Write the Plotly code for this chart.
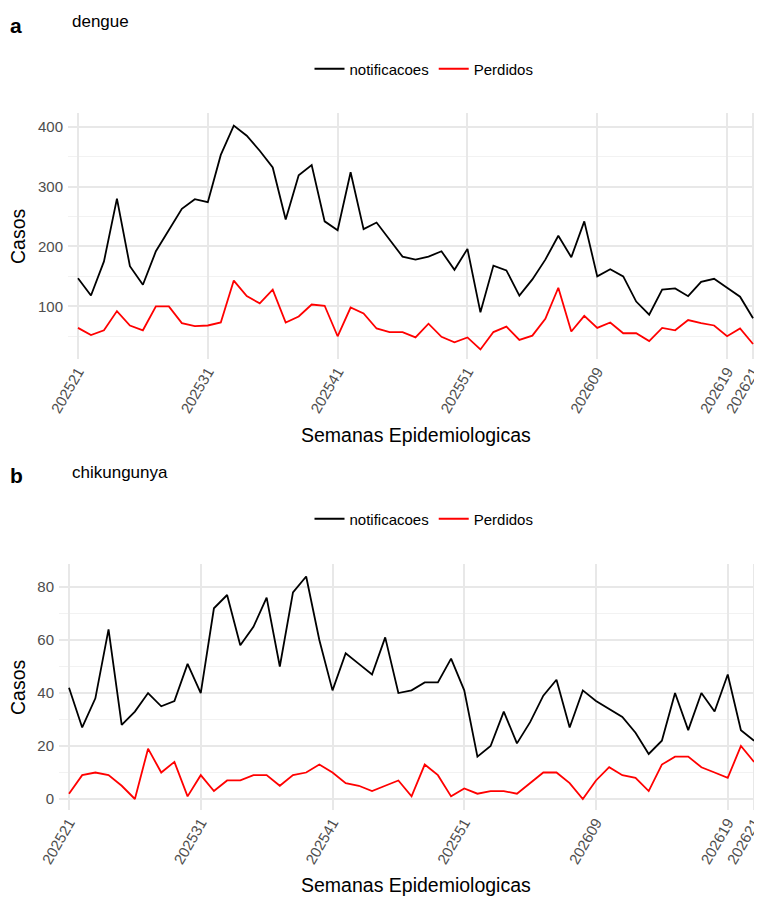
import plotly.graph_objects as go
from plotly.subplots import make_subplots

semanas = ["202521", "202522", "202523", "202524", "202525", "202526", "202527", "202528", "202529", "202530",
           "202531", "202532", "202533", "202534", "202535", "202536", "202537", "202538", "202539", "202540",
           "202541", "202542", "202543", "202544", "202545", "202546", "202547", "202548", "202549", "202550",
           "202551", "202552", "202601", "202602", "202603", "202604", "202605", "202606", "202607", "202608",
           "202609", "202610", "202611", "202612", "202613", "202614", "202615", "202616", "202617", "202618",
           "202619", "202620", "202621"]
tick_semanas = ["202521", "202531", "202541", "202551", "202609", "202619", "202621"]

dengue_notif = [147, 118, 175, 280, 167, 136, 192, 228, 263, 279, 274, 353, 402, 385, 360, 332, 245, 319, 336, 242,
                227, 324, 229, 240, 212, 183, 178, 183, 192, 161, 196, 90, 168, 160, 118, 145, 178, 218, 182, 242,
                150, 162, 150, 108, 86, 128, 130, 117, 141, 146, 131, 116, 80]
dengue_perd = [64, 52, 60, 92, 68, 60, 100, 100, 72, 67, 68, 73, 143, 117, 105, 128, 73, 83, 103, 101,
               50, 98, 88, 63, 57, 57, 48, 71, 49, 40, 48, 28, 57, 66, 44, 51, 79, 131, 58, 84,
               64, 73, 55, 55, 42, 64, 60, 77, 72, 68, 50, 63, 37]
chik_notif = [42, 27, 38, 64, 28, 33, 40, 35, 37, 51, 40, 72, 77, 58, 65, 76, 50, 78, 84, 60,
              41, 55, 51, 47, 61, 40, 41, 44, 44, 53, 41, 16, 20, 33, 21, 29, 39, 45, 27, 41,
              37, 34, 31, 25, 17, 22, 40, 26, 40, 33, 47, 26, 22]
chik_perd = [2, 9, 10, 9, 5, 0, 19, 10, 14, 1, 9, 3, 7, 7, 9, 9, 5, 9, 10, 13,
             10, 6, 5, 3, 5, 7, 1, 13, 9, 1, 4, 2, 3, 3, 2, 6, 10, 10, 6, 0,
             7, 12, 9, 8, 3, 13, 16, 16, 12, 10, 8, 20, 14]

x = list(range(len(semanas)))
tickvals = [semanas.index(s) for s in tick_semanas]

W, H, L, R = 754, 889, 51, 0
OFF = 8  # page body margin


def fy(ys):
    return 1 - (ys - OFF) / H


def fx(xs):
    return (xs - OFF - L) / (W - L - R)


fig = make_subplots(rows=2, cols=1)
panels = [(dengue_notif, dengue_perd, "legend"), (chik_notif, chik_perd, "legend2")]
for row, (notif, perd, leg) in enumerate(panels, start=1):
    fig.add_trace(go.Scatter(x=x, y=notif, mode="lines", name="notificacoes",
                             line=dict(color="black", width=1.8), legend=leg), row=row, col=1)
    fig.add_trace(go.Scatter(x=x, y=perd, mode="lines", name="Perdidos",
                             line=dict(color="red", width=1.8), legend=leg), row=row, col=1)

FAM = "Liberation Sans, Arial"
grid = "#e8e8e8"
font = dict(family=FAM, color="#4d4d4d", size=15)
layout_rows = [
    (1, [fx(68), 1], [-0.77, 52.69], [fy(359), fy(113)]),
    (2, [0, 1], [-0.76, 52.6], [fy(810), fy(564)]),
]
for row, xdom, xrng, ydom in layout_rows:
    fig.update_xaxes(row=row, col=1, domain=xdom, range=xrng, tickvals=tickvals, ticktext=tick_semanas,
                     tickangle=-60, showgrid=True, gridcolor=grid, gridwidth=1.6, zeroline=False,
                     tickfont=font, ticks="", showline=False, automargin=False, ticklabeloverflow="allow")
    fig.update_yaxes(row=row, col=1, domain=ydom, showgrid=True, gridcolor=grid, gridwidth=1.6, zeroline=False,
                     tickfont=font, automargin=False, ticklabelstandoff=4,
                     minor=dict(showgrid=True, gridcolor="#f2f2f2", gridwidth=1.1))
fig.update_yaxes(row=1, col=1, range=[12, 423], tickvals=[100, 200, 300, 400], minor=dict(tickvals=[50, 150, 250, 350]))
fig.update_yaxes(row=2, col=1, range=[-4.15, 88.7], tickvals=[0, 20, 40, 60, 80], minor=dict(tickvals=[10, 30, 50, 70]))

leg_style = dict(orientation="h", xanchor="center", x=fx(424), yanchor="middle",
                 font=dict(family=FAM, size=15, color="black"), bgcolor="rgba(0,0,0,0)")


def txt(s, x, y, size, xanchor="left", angle=0):
    return dict(text=s, x=x, y=y, xref="paper", yref="paper", showarrow=False, xanchor=xanchor,
                yanchor="middle", textangle=angle, font=dict(size=size, color="black", family=FAM))


fig.update_layout(
    width=W, height=H, plot_bgcolor="white", paper_bgcolor="white",
    margin=dict(l=L, r=R, t=0, b=0),
    legend=dict(y=fy(69), **leg_style), legend2=dict(y=fy(519), **leg_style),
    showlegend=True,
    annotations=[
        txt("<b>a</b>", fx(8), fy(26), 21),
        txt("dengue", fx(70), fy(22), 17),
        txt("Casos", fx(18), fy(236), 19.5, "center", -90),
        txt("Semanas Epidemiologicas", fx(416), fy(435), 19.5, "center"),
        txt("<b>b</b>", fx(8), fy(475), 21),
        txt("chikungunya", fx(70), fy(472), 17),
        txt("Casos", fx(18), fy(687), 19.5, "center", -90),
        txt("Semanas Epidemiologicas", fx(416), fy(885), 19.5, "center"),
    ],
)
fig.write_html("out.html")
